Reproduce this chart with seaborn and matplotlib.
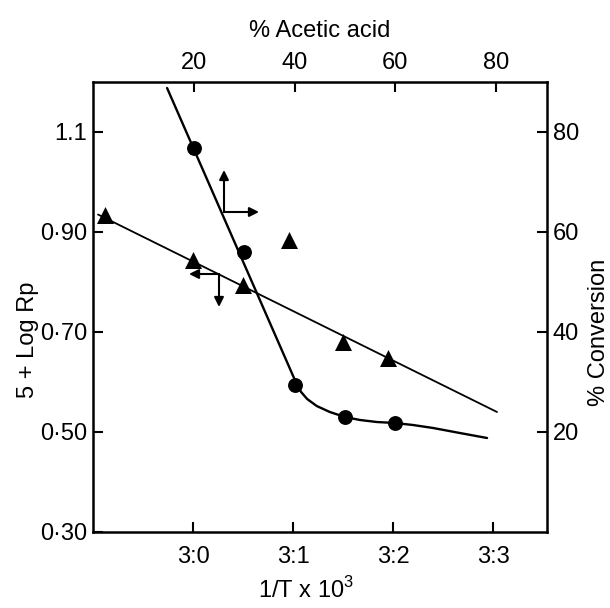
import matplotlib
matplotlib.use("Agg")
import matplotlib.pyplot as plt
import seaborn as sns
import pandas as pd

# ---- data ----
# Triangles: 5 + log Rp vs 1/T x 10^3 (bottom / left axes)
tri_invT = [2.912, 3.0, 3.05, 3.096, 3.15, 3.195]
tri_logRp = [0.935, 0.845, 0.795, 0.885, 0.680, 0.648]
# fitted straight line through triangles
fit_invT = [2.905, 3.304]
fit_logRp = [0.935, 0.540]

# Circles: % conversion vs % acetic acid (top / right axes)
circ_acetic = [20, 30, 40, 50, 60]
circ_conv = [76.8, 56.0, 29.4, 23.0, 21.8]
# hand-drawn smooth curve through circles
curve_acetic = [14.7, 40.5, 41.3, 42.5, 44.4, 47.0, 50.0, 53.0, 56.3,
                59.9, 63.5, 67.5, 72.8, 78.2]
curve_conv = [88.8, 29.4, 28.0, 26.6, 25.2, 24.0, 23.0, 22.4, 22.0,
              21.8, 21.4, 20.8, 19.8, 18.8]

# ticks
bottom_ticks = [3.0, 3.1, 3.2, 3.3]
bottom_labels = ["3:0", "3:1", "3:2", "3:3"]
left_ticks = [0.30, 0.50, 0.70, 0.90, 1.1]
left_labels = ["0·30", "0·50", "0·70", "0·90", "1.1"]
top_ticks = [20, 40, 60, 80]
top_labels = ["20", "40", "60", "80"]
right_ticks = [20, 40, 60, 80]
right_labels = ["20", "40", "60", "80"]

sns.set_style("ticks")
plt.rcParams["font.family"] = ["Liberation Sans", "DejaVu Sans"]
plt.rcParams["mathtext.fontset"] = "custom"
plt.rcParams["mathtext.rm"] = "Liberation Sans"
for k in ("text.color", "axes.labelcolor", "xtick.color", "ytick.color",
          "axes.edgecolor"):
    plt.rcParams[k] = "black"

fig = plt.figure(figsize=(6.1, 6.08), dpi=100)
pos = [93 / 610, 1 - 532 / 608, 454 / 610, 450 / 608]
ax = fig.add_axes(pos)
ax2 = fig.add_axes(pos, frameon=False)

tri_df = pd.DataFrame({"x": tri_invT, "y": tri_logRp})
fit_df = pd.DataFrame({"x": fit_invT, "y": fit_logRp})
circ_df = pd.DataFrame({"x": circ_acetic, "y": circ_conv})
curve_df = pd.DataFrame({"x": curve_acetic, "y": curve_conv})

sns.lineplot(data=fit_df, x="x", y="y", ax=ax, color="black", lw=1.3, sort=False)
sns.scatterplot(data=tri_df, x="x", y="y", ax=ax, marker="^", s=150,
                color="black", edgecolor="black", linewidth=0, zorder=5)

sns.lineplot(data=curve_df, x="x", y="y", ax=ax2, color="black", lw=1.7, sort=False)
sns.scatterplot(data=circ_df, x="x", y="y", ax=ax2, marker="o", s=115,
                color="black", edgecolor="black", linewidth=0, zorder=5)

ax.set_xlim(2.9, 3.354)
ax.set_ylim(0.30, 1.20)
ax2.set_xlim(0, 90.1)
ax2.set_ylim(0, 90)

ax.set_xticks(bottom_ticks)
ax.set_xticklabels(bottom_labels)
ax.set_yticks(left_ticks)
ax.set_yticklabels(left_labels)

ax2.xaxis.tick_top()
ax2.yaxis.tick_right()
ax2.xaxis.set_label_position("top")
ax2.yaxis.set_label_position("right")
ax2.set_xticks(top_ticks)
ax2.set_xticklabels(top_labels)
ax2.set_yticks(right_ticks)
ax2.set_yticklabels(right_labels)

fs = 17
ax.tick_params(axis="x", direction="in", length=7, width=1.5, labelsize=fs, pad=10)
ax.tick_params(axis="y", direction="in", length=7, width=1.5, labelsize=fs, pad=4)
ax2.tick_params(axis="x", direction="in", length=7, width=1.5, labelsize=fs, pad=6)
ax2.tick_params(axis="y", direction="in", length=7, width=1.5, labelsize=fs, pad=4)
for s in ax.spines.values():
    s.set_linewidth(1.8)
    s.set_visible(True)

ax.set_xlabel("1/T x 10$^{\\mathregular{3}}$", fontsize=fs)
ax.set_ylabel("5 + Log Rp", fontsize=fs)
ax2.set_xlabel("% Acetic acid", fontsize=fs)
ax2.set_ylabel("% Conversion", fontsize=fs)
ax.xaxis.set_label_coords(0.47, -0.10)
ax.yaxis.set_label_coords(-0.118, 0.427)
ax2.xaxis.set_label_coords(0.5, 1.10)
ax2.yaxis.set_label_coords(1.09, 0.444)

# direction arrows (which axes each curve belongs to)
akw = dict(arrowstyle="-|>", color="black", lw=1.5, mutation_scale=14,
           shrinkA=0, shrinkB=0)
ax.annotate("", xy=(3.031, 1.024), xytext=(3.031, 0.94), arrowprops=akw)
ax.annotate("", xy=(3.066, 0.94), xytext=(3.031, 0.94), arrowprops=akw)
ax.annotate("", xy=(2.996, 0.816), xytext=(3.026, 0.816), arrowprops=akw)
ax.annotate("", xy=(3.026, 0.750), xytext=(3.026, 0.816), arrowprops=akw)

fig.savefig("out.png", dpi=100)
